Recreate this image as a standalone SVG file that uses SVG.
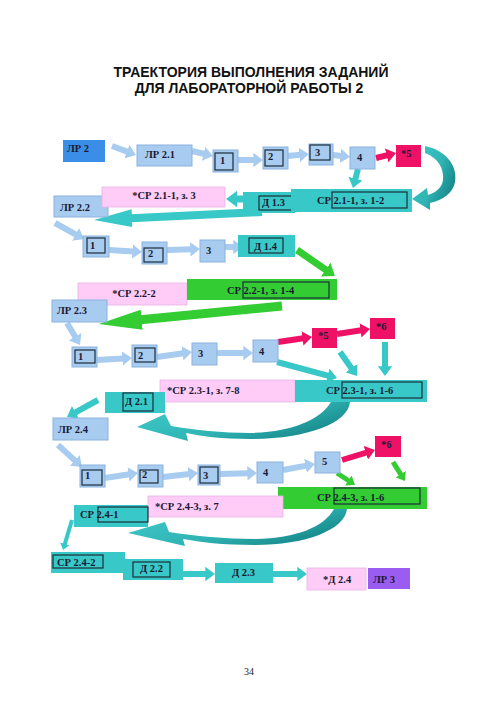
<svg xmlns="http://www.w3.org/2000/svg" width="500" height="708" viewBox="0 0 500 708">
<style>
.lb{fill:#a8cbf0;stroke:#8ab2de;stroke-width:1}
.db{fill:#3a8ee8}
.tl{fill:#38c8c8}
.gr{fill:#33cc33}
.rd{fill:#ee1166}
.pk{fill:#ffccf7;stroke:#e6b4e6;stroke-width:0.8}
.pu{fill:#9b5cf2}
.in{fill:none;stroke:#1c2d3a;stroke-width:1.2}
.t{font-family:"Liberation Serif","Times New Roman",serif;font-weight:bold;font-size:10.5px;fill:#1a1a33}
.h{font-family:"Liberation Sans",Arial,sans-serif;font-weight:bold;font-size:14px;fill:#111;text-anchor:middle}
.ab{stroke:#a8cbf0;stroke-width:6;fill:none;marker-end:url(#mB)}
.ar{stroke:#ee1166;stroke-width:6;fill:none;marker-end:url(#mR)}
.at{stroke:#38c8c8;stroke-width:6;fill:none;marker-end:url(#mT)}
.ag{stroke:#33cc33;stroke-width:5;fill:none;marker-end:url(#mG)}
.cv{fill:url(#gc)}
</style>
<defs>
<marker id="mB" viewBox="0 0 10 10" refX="1" refY="5" markerWidth="1.6" markerHeight="2.4" orient="auto" preserveAspectRatio="none"><path d="M0,0 L10,5 L0,10 z" fill="#a8cbf0"/></marker>
<marker id="mR" viewBox="0 0 10 10" refX="1" refY="5" markerWidth="1.6" markerHeight="2.4" orient="auto" preserveAspectRatio="none"><path d="M0,0 L10,5 L0,10 z" fill="#ee1166"/></marker>
<marker id="mT" viewBox="0 0 10 10" refX="1" refY="5" markerWidth="1.6" markerHeight="2.4" orient="auto" preserveAspectRatio="none"><path d="M0,0 L10,5 L0,10 z" fill="#38c8c8"/></marker>
<marker id="mG" viewBox="0 0 10 10" refX="1" refY="5" markerWidth="1.6" markerHeight="2.4" orient="auto" preserveAspectRatio="none"><path d="M0,0 L10,5 L0,10 z" fill="#33cc33"/></marker>
<marker id="mTL" viewBox="0 0 38 18" refX="1" refY="9" markerWidth="38" markerHeight="18" markerUnits="userSpaceOnUse" orient="auto"><path d="M0,0 L38,9 L0,18 z" fill="#38c8c8"/></marker>
<marker id="mGL" viewBox="0 0 43 20" refX="1" refY="10" markerWidth="43" markerHeight="20" markerUnits="userSpaceOnUse" orient="auto"><path d="M0,0 L43,10 L0,20 z" fill="#33cc33"/></marker>
<linearGradient id="gc" x1="0" y1="0" x2="1" y2="0.6"><stop offset="0" stop-color="#40cccc"/><stop offset="0.6" stop-color="#30b4b4"/><stop offset="1" stop-color="#16878a"/></linearGradient>
</defs>
<rect width="500" height="708" fill="#fff"/>
<g id="title">
<text class="h" x="251" y="77">ТРАЕКТОРИЯ ВЫПОЛНЕНИЯ ЗАДАНИЙ</text>
<text class="h" x="249" y="93">ДЛЯ ЛАБОРАТОРНОЙ РАБОТЫ 2</text>
</g>
<g id="connectors">
<line class="ab" x1="112" y1="146" x2="127.8" y2="151.9"/>
<line class="ab" x1="192" y1="151" x2="204.5" y2="154"/>
<line class="ab" x1="238" y1="160" x2="254.3" y2="160"/>
<line class="ab" x1="288" y1="156" x2="300.3" y2="154.8"/>
<line class="ab" x1="333" y1="155" x2="341.4" y2="156"/>
<line class="ab" x1="55" y1="223" x2="76.4" y2="234.8"/>
<line class="ab" x1="109" y1="250" x2="133.3" y2="251.5"/>
<line class="ab" x1="167" y1="250" x2="191.3" y2="249.3"/>
<line class="ab" x1="225" y1="247" x2="234.3" y2="247"/>
<line class="ab" x1="67" y1="323" x2="75.6" y2="337.5"/>
<line class="ab" x1="97" y1="360" x2="123.3" y2="358.5"/>
<line class="ab" x1="157" y1="357" x2="183.4" y2="353.2"/>
<line class="ab" x1="217" y1="353" x2="244.3" y2="353"/>
<line class="ab" x1="58" y1="445" x2="75.6" y2="461.1"/>
<line class="ab" x1="105" y1="478" x2="129.4" y2="474.3"/>
<line class="ab" x1="163" y1="477" x2="189.4" y2="474"/>
<line class="ab" x1="220" y1="474" x2="248.3" y2="473.2"/>
<line class="ab" x1="283" y1="470" x2="306.4" y2="465.6"/>
<line class="ar" x1="376" y1="158" x2="387.6" y2="155.1"/>
<line class="ar" x1="278" y1="342" x2="303.4" y2="338.3"/>
<line class="ar" x1="337" y1="334" x2="361.4" y2="330.3"/>
<line class="ar" x1="342" y1="460" x2="366.7" y2="452.5"/>
<line class="at" x1="358" y1="169" x2="355.2" y2="179.6"/>
<line class="at" x1="277" y1="362" x2="328.6" y2="375.8"/>
<line class="at" x1="340" y1="352" x2="352" y2="368.9"/>
<line class="at" x1="385" y1="342" x2="385" y2="367.3"/>
<line class="at" x1="98" y1="400" x2="74.6" y2="412.8"/>
<line class="at" x1="72" y1="520" x2="64.7" y2="544.4" style="stroke-width:4"/>
<line class="at" x1="183" y1="574" x2="206.3" y2="574"/>
<line class="at" x1="273" y1="574" x2="298.3" y2="574"/>
<line class="at" x1="244" y1="199" x2="236.2" y2="199" style="stroke-width:7"/>
<line x1="262" y1="212" x2="131" y2="218.2" stroke="#38c8c8" stroke-width="8" marker-end="url(#mTL)"/>
<line class="ag" x1="297" y1="250" x2="326.6" y2="270.3" style="stroke-width:7"/>
<line x1="282" y1="306" x2="140.7" y2="319.8" stroke="#33cc33" stroke-width="9" marker-end="url(#mGL)"/>
<line class="ag" x1="337" y1="473" x2="349" y2="481"/>
<line class="ag" x1="393" y1="462" x2="401.1" y2="474.9"/>
<path class="cv" d="M425,146 C445,150 458,165 455,182 C453,193 443,200 430,203 L430,210 L412,199 L427,188 L428,195 C437,192 442,187 443,180 C444,168 438,158 425,153 Z"/>
<path class="cv" d="M350,402 C348,424 305,439 250,439 C222,439 200,436 186,433 L188,441 L137,427 L165,414 L171,426 C195,430 222,433 250,433 C292,432 320,420 331,402 Z"/>
<path class="cv" d="M347,509 C345,530 305,545 255,545 C222,545 200,542 183,539 L185,546 L128,533 L165,522 L169,532 C195,536 225,539 255,539 C297,538 324,527 334,509 Z"/>
</g>
<g id="lr2"><rect class="db" x="63" y="140" width="42" height="22"/><text class="t" x="67" y="152">ЛР 2</text></g>
<g id="lr21"><rect class="lb" x="137" y="145" width="55" height="21"/><text class="t" x="145" y="158">ЛР 2.1</text></g>
<g id="r1b1"><rect class="lb" x="213" y="150" width="25" height="22"/><rect class="in" x="215" y="153" width="18" height="17"/><text class="t" x="220" y="164">1</text></g>
<g id="r1b2"><rect class="lb" x="263" y="147" width="25" height="22"/><rect class="in" x="265" y="150" width="18" height="16"/><text class="t" x="268" y="160">2</text></g>
<g id="r1b3"><rect class="lb" x="309" y="144" width="24" height="21"/><rect class="in" x="310" y="145" width="20" height="15"/><text class="t" x="315" y="156">3</text></g>
<g id="r1b4"><rect class="lb" x="350" y="147" width="25" height="22"/><text class="t" x="357" y="161">4</text></g>
<g id="r1s5"><rect class="rd" x="396" y="145" width="25" height="22"/><text class="t" x="401" y="157">*5</text></g>
<g id="lr22"><rect class="lb" x="54" y="196" width="54" height="21"/><text class="t" x="60" y="211">ЛР 2.2</text></g>
<g id="sr211z3"><rect class="pk" x="102" y="187" width="123" height="20"/><text class="t" x="164" y="199" text-anchor="middle">*СР 2.1-1, з. 3</text></g>
<g id="d13"><rect class="tl" x="243" y="192" width="52" height="21"/><rect class="in" x="259" y="196" width="33" height="14"/><text class="t" x="262" y="206">Д 1.3</text></g>
<g id="sr211"><rect class="tl" x="291" y="189" width="121" height="23"/><rect class="in" x="332" y="192" width="75" height="16"/><text class="t" x="317" y="204">СР 2.1-1, з. 1-2</text></g>
<g id="r3b1"><rect class="lb" x="83" y="236" width="26" height="21"/><rect class="in" x="87" y="238" width="18" height="15"/><text class="t" x="90" y="249">1</text></g>
<g id="r3b2"><rect class="lb" x="142" y="242" width="25" height="22"/><rect class="in" x="144" y="248" width="19" height="14"/><text class="t" x="148" y="257">2</text></g>
<g id="r3b3"><rect class="lb" x="200" y="240" width="25" height="22"/><text class="t" x="206" y="254">3</text></g>
<g id="d14"><rect class="tl" x="238" y="235" width="57" height="22"/><rect class="in" x="249" y="238" width="34" height="15"/><text class="t" x="254" y="250">Д 1.4</text></g>
<g id="sr222"><rect class="pk" x="78" y="283" width="109" height="22"/><text class="t" x="134" y="297" text-anchor="middle">*СР 2.2-2</text></g>
<g id="sr221"><rect class="gr" x="187" y="279" width="150" height="21"/><rect class="in" x="243" y="282" width="86" height="16"/><text class="t" x="227" y="294">СР 2.2-1, з. 1-4</text></g>
<g id="lr23"><rect class="lb" x="52" y="300" width="55" height="22"/><text class="t" x="57" y="314">ЛР 2.3</text></g>
<g id="r5b1"><rect class="lb" x="72" y="347" width="25" height="20"/><rect class="in" x="75" y="350" width="20" height="13"/><text class="t" x="78" y="360">1</text></g>
<g id="r5b2"><rect class="lb" x="132" y="345" width="25" height="22"/><rect class="in" x="135" y="348" width="20" height="14"/><text class="t" x="138" y="359">2</text></g>
<g id="r5b3"><rect class="lb" x="192" y="343" width="25" height="22"/><text class="t" x="198" y="357">3</text></g>
<g id="r5b4"><rect class="lb" x="253" y="340" width="25" height="22"/><text class="t" x="259" y="355">4</text></g>
<g id="r5s5"><rect class="rd" x="312" y="328" width="25" height="20"/><text class="t" x="318" y="339">*5</text></g>
<g id="r5s6"><rect class="rd" x="370" y="318" width="25" height="21"/><text class="t" x="376" y="330">*6</text></g>
<g id="sr231z78"><rect class="pk" x="160" y="380" width="135" height="22"/><text class="t" x="167" y="394">*СР 2.3-1, з. 7-8</text></g>
<g id="sr231"><rect class="tl" x="295" y="380" width="132" height="22"/><rect class="in" x="342" y="382" width="80" height="16"/><text class="t" x="326" y="394">СР 2.3-1, з. 1-6</text></g>
<g id="d21"><rect class="tl" x="105" y="392" width="60" height="21"/><rect class="in" x="123" y="393" width="30" height="18"/><text class="t" x="125" y="405">Д 2.1</text></g>
<g id="lr24"><rect class="lb" x="53" y="418" width="55" height="22"/><text class="t" x="58" y="433">ЛР 2.4</text></g>
<g id="r6b1"><rect class="lb" x="80" y="465" width="25" height="22"/><rect class="in" x="82" y="470" width="20" height="15"/><text class="t" x="85" y="479">1</text></g>
<g id="r6b2"><rect class="lb" x="138" y="465" width="25" height="22"/><rect class="in" x="140" y="470" width="18" height="13"/><text class="t" x="142" y="478">2</text></g>
<g id="r6b3"><rect class="lb" x="198" y="465" width="22" height="20"/><rect class="in" x="200" y="467" width="18" height="16"/><text class="t" x="203" y="479">3</text></g>
<g id="r6b4"><rect class="lb" x="257" y="462" width="26" height="21"/><text class="t" x="263" y="476">4</text></g>
<g id="r6b5"><rect class="lb" x="315" y="452" width="25" height="21"/><text class="t" x="322" y="465">5</text></g>
<g id="r6s6"><rect class="rd" x="375" y="436" width="26" height="21"/><text class="t" x="381" y="448">*6</text></g>
<g id="sr243"><rect class="gr" x="278" y="487" width="149" height="22"/><rect class="in" x="334" y="488" width="86" height="16"/><text class="t" x="317" y="501">СР 2.4-3, з. 1-6</text></g>
<g id="sr243z7"><rect class="pk" x="148" y="496" width="135" height="21"/><text class="t" x="155" y="510">*СР 2.4-3, з. 7</text></g>
<g id="sr241"><rect class="tl" x="74" y="505" width="74" height="22"/><rect class="in" x="98" y="507" width="50" height="15"/><text class="t" x="80" y="518">СР 2.4-1</text></g>
<g id="sr242"><rect class="tl" x="51" y="552" width="74" height="21"/><rect class="in" x="53" y="555" width="50" height="13"/><text class="t" x="57" y="566">СР 2.4-2</text></g>
<g id="d22"><rect class="tl" x="123" y="559" width="60" height="21"/><rect class="in" x="133" y="562" width="37" height="15"/><text class="t" x="140" y="572">Д 2.2</text></g>
<g id="d23"><rect class="tl" x="215" y="563" width="58" height="20"/><text class="t" x="232" y="576">Д 2.3</text></g>
<g id="d24"><rect class="pk" x="307" y="568" width="59" height="22"/><text class="t" x="323" y="583">*Д 2.4</text></g>
<g id="lr3"><rect class="pu" x="368" y="568" width="42" height="21"/><text class="t" x="373" y="583">ЛР 3</text></g>
<text x="249" y="675" style="font-family:'Liberation Serif','Times New Roman',serif;font-size:10px;fill:#222" text-anchor="middle">34</text>
</svg>
